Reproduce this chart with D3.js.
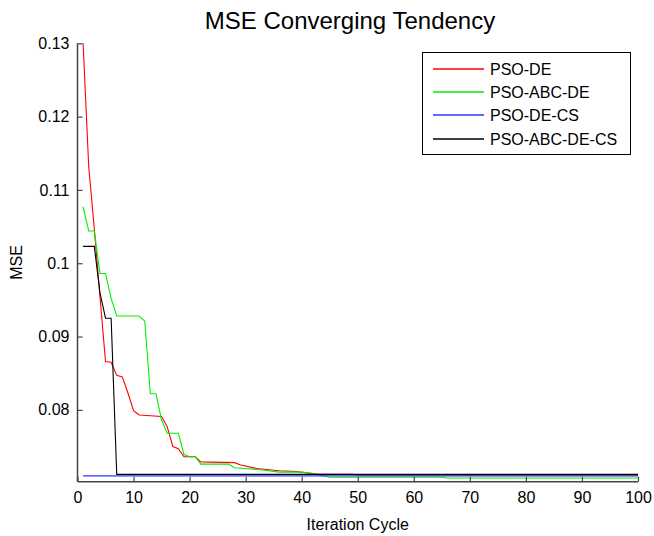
<!DOCTYPE html>
<html>
<head>
<meta charset="utf-8">
<script src="https://cdn.jsdelivr.net/npm/d3@7"></script>
<style>
html,body{margin:0;padding:0;background:#fff;}
svg{display:block;font-family:"Liberation Sans",Arial,sans-serif;}
</style>
</head>
<body>
<svg id="chart" width="654" height="536"></svg>
<script>
// ---- data ----
const seriesNames = ["PSO-DE", "PSO-ABC-DE", "PSO-DE-CS", "PSO-ABC-DE-CS"];
const seriesColors = ["#ff0000", "#00ee00", "#3333ff", "#000000"];

const psoDE = [[1,0.1300],[2,0.1132],[3,0.1047],[4,0.0955],[5,0.0866],[6,0.0865],[7,0.0847],[8,0.0845],[9,0.0823],[10,0.0799],[11,0.0793],[13,0.0792],[15,0.0791],[16,0.0777],[17,0.0750],[18,0.0747],[19,0.0736],[21,0.0736],[22,0.0729],[28,0.0728],[29,0.0725],[32,0.0720],[36,0.0717],[39,0.0716],[42,0.0713],[43,0.0712],[49,0.0712],[50,0.0711],[100,0.0711]];
const psoABCDE = [[1,0.1077],[2,0.1044],[3,0.1044],[4,0.0986],[5,0.0986],[6,0.0952],[7,0.0928],[11,0.0928],[12,0.0921],[13,0.0822],[14,0.0822],[15,0.0786],[16,0.0768],[18,0.0768],[19,0.0739],[20,0.0736],[21,0.0736],[22,0.0726],[27,0.0726],[28,0.0721],[30,0.0720],[33,0.0718],[36,0.0715],[40,0.0715],[42,0.0713],[45,0.0708],[65,0.0708],[66,0.0707],[100,0.0707]];
const psoDECS = [[1,0.0710],[100,0.0710]];
const psoABCDECS = [[1,0.1023],[3,0.1023],[4,0.0960],[5,0.0925],[6,0.0925],[7,0.0712],[100,0.0712]];

const xTicks = [0,10,20,30,40,50,60,70,80,90,100];
const yTicks = [0.08,0.09,0.10,0.11,0.12,0.13];
const yTickLabels = ["0.08","0.09","0.1","0.11","0.12","0.13"];

const titleText = "MSE Converging Tendency";
const xLabelText = "Iteration Cycle";
const yLabelText = "MSE";

// ---- drawing ----
const svg = d3.select("#chart");
const pLeft = 77.5, pRight = 638, pTop = 43.3, pBottom = 481.7;

const x = d3.scaleLinear().domain([0,100]).range([pLeft,pRight]);
const y = d3.scaleLinear().domain([0.0702,0.13]).range([pBottom,pTop]);

const allSeries = [psoDE, psoABCDE, psoDECS, psoABCDECS];

const line = d3.line().x(d=>x(d[0])).y(d=>y(d[1]));

const plot = svg.append("g");
allSeries.forEach((s,i)=>{
  plot.append("path").datum(s)
    .attr("d", line)
    .style("fill","none")
    .style("stroke", seriesColors[i])
    .style("stroke-width", 1.1);
});

// axes (ticks pointing inwards)
const axisColor = "#444";
const xAxis = d3.axisBottom(x).tickValues(xTicks).tickFormat(d3.format("d")).tickSizeInner(-5).tickSizeOuter(0).tickPadding(10);
const gx = svg.append("g").attr("transform",`translate(0,${pBottom})`).call(xAxis);
const yAxis = d3.axisLeft(y).tickValues(yTicks).tickFormat((d,i)=>yTickLabels[i]).tickSizeInner(-5).tickSizeOuter(0).tickPadding(8);
const gy = svg.append("g").attr("transform",`translate(${pLeft},0)`).call(yAxis);
[gx,gy].forEach(g=>{
  g.select(".domain").attr("stroke",axisColor).attr("stroke-width",1.5);
  g.selectAll(".tick line").attr("stroke",axisColor).attr("stroke-width",1.2);
  g.selectAll(".tick text").attr("fill","#000").style("font-size","16px").style("font-family","'Liberation Sans',Arial,sans-serif");
});
gx.select(".domain").attr("d",`M${pLeft},0H${pRight}`);
gy.select(".domain").attr("d",`M0,${pBottom}V${pTop}`);

// title & labels
svg.append("text").attr("x",350).attr("y",29).attr("text-anchor","middle")
  .style("font-size","24px").text(titleText);
svg.append("text").attr("x",(pLeft+pRight)/2).attr("y",530).attr("text-anchor","middle")
  .style("font-size","16px").text(xLabelText);
svg.append("text").attr("transform",`translate(22,${(pTop+pBottom)/2}) rotate(-90)`).attr("text-anchor","middle")
  .style("font-size","16px").text(yLabelText);

// legend
const lg = svg.append("g");
lg.append("rect").attr("x",422.5).attr("y",52.5).attr("width",208).attr("height",102)
  .style("fill","#fff").style("stroke","#000").style("stroke-width",1);
const rowY = [69, 92, 115, 139];
seriesNames.forEach((n,i)=>{
  lg.append("path").attr("d",`M433,${rowY[i]}H484`)
    .style("fill","none").style("stroke",seriesColors[i]).style("stroke-width",1.5);
  lg.append("text").attr("x",490).attr("y",rowY[i]).attr("dy","0.36em")
    .style("font-size","16px").text(n);
});
</script>
</body>
</html>
